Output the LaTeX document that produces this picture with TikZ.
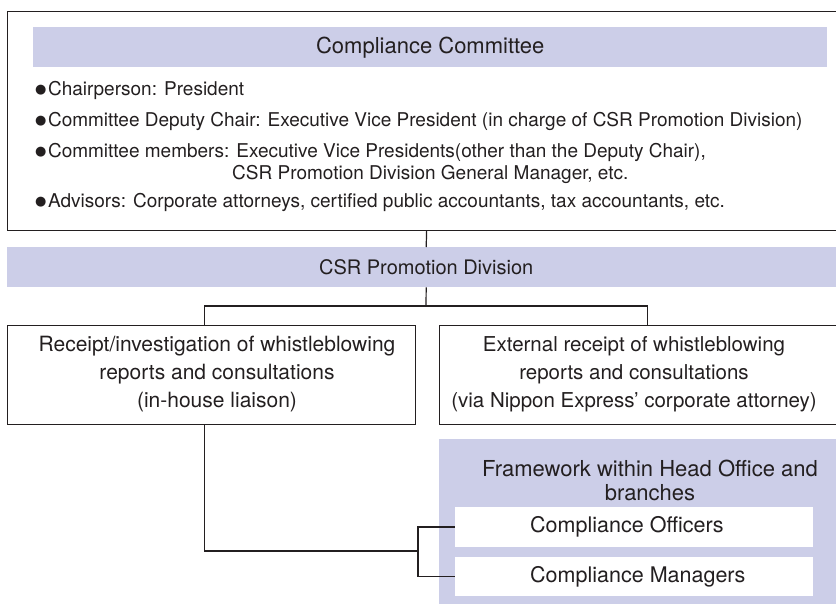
\documentclass[tikz,border=0pt]{standalone}
\usepackage{fontspec}
\setmainfont{TeX Gyre Heros}
\newfontfamily\dotfont{DejaVu Sans}
\usetikzlibrary{positioning}
\definecolor{bandblue}{RGB}{204,206,232}
\definecolor{inkgray}{RGB}{35,31,32}
\newcommand{\itemdot}{\raisebox{1.5pt}{\dotfont\fontsize{13}{13}\selectfont ●}\hspace{1.5pt}}
\tikzset{
  every node/.style={font=\fontsize{20}{28}\selectfont, text=inkgray, inner sep=0pt},
  band/.style={fill=bandblue, draw=none},
  framebox/.style={draw=inkgray, line width=1.2pt},
  whitebox/.style={fill=white},
  bulletline/.style={anchor=base west, font=\fontsize{19}{22}\selectfont},
  boxtext/.style={align=center, font=\fontsize{21}{28}\selectfont},
  link/.style={draw=inkgray, line width=1.2pt}
}
\begin{document}
\begin{tikzpicture}[x=1pt,y=-1pt]
	\useasboundingbox (0,0) rectangle (836,603);
	\clip (0,0) rectangle (836,603);
	
	% committee block
	\node (committee) [framebox, minimum width=838pt, minimum height=219pt, anchor=north west] at (7,11) {};
	\node (cchead) [band, minimum width=794pt, minimum height=40pt, anchor=north west, font=\fontsize{22}{26}\selectfont] at (33,27) {Compliance Committee};
	\node (chair) [bulletline] at (35,95) {\itemdot Chairperson: President};
	\node (deputy) [bulletline] at (35,126) {\itemdot Committee Deputy Chair: Executive Vice President (in charge of CSR Promotion Division)};
	\node (members) [bulletline] at (35,157) {\itemdot Committee members: Executive Vice Presidents(other than the Deputy Chair),};
	\node (membersb) [bulletline] at (232,179) {CSR Promotion Division General Manager, etc.};
	\node (advisors) [bulletline] at (35,207) {\itemdot Advisors: Corporate attorneys, certified public accountants, tax accountants, etc.};
	
	\node (csr) [band, minimum width=838pt, minimum height=40pt, anchor=north west] at (7,247) {CSR Promotion Division};
	
	% whistleblowing desks
	\node (report) [framebox, minimum width=408pt, minimum height=99pt, anchor=north west] at (7,325) {};
	\node (reporttext) [boxtext] at (217,374.5) {Receipt/investigation of whistleblowing\\reports and consultations\\(in-house liaison)};
	\node (external) [framebox, minimum width=416pt, minimum height=99pt, anchor=north west] at (439,325) {};
	\node (externaltext) [boxtext, font=\fontsize{20.5}{28}\selectfont] at (634,374.5) {External receipt of whistleblowing\\reports and consultations\\(via Nippon Express' corporate attorney)};
	
	% head office and branches
	\node (framework) [band, minimum width=406pt, minimum height=170pt, anchor=north west] at (439,439) {};
	\node (fwtitle) [align=center, font=\fontsize{22}{24}\selectfont] at (650,480) {Framework within Head Office and\\branches};
	\node (officers) [whitebox, minimum width=358pt, minimum height=40pt] at (634,527) {};
	\node (officerstext) [anchor=west, font=\fontsize{21.5}{24}\selectfont] at (530,527) {Compliance Officers};
	\node (managers) [whitebox, minimum width=358pt, minimum height=39pt] at (634,576.5) {};
	\node (managerstext) [anchor=west, font=\fontsize{21.5}{24}\selectfont] at (530,576.5) {Compliance Managers};
	
	\coordinate (split) at (426,306);
	\coordinate (joint) at (418,551);
	\draw [link] (committee.south) -- (csr.north);
	\draw [link] (csr.south) -- (split);
	\draw [link] ([xshift=-7pt]report.north) |- (split) -| (external.north);
	\draw [link] ([xshift=-7pt]report.south) |- (joint);
	\draw [link] (officers.west) -| (joint) |- (managers.west);
\end{tikzpicture}
\end{document}
